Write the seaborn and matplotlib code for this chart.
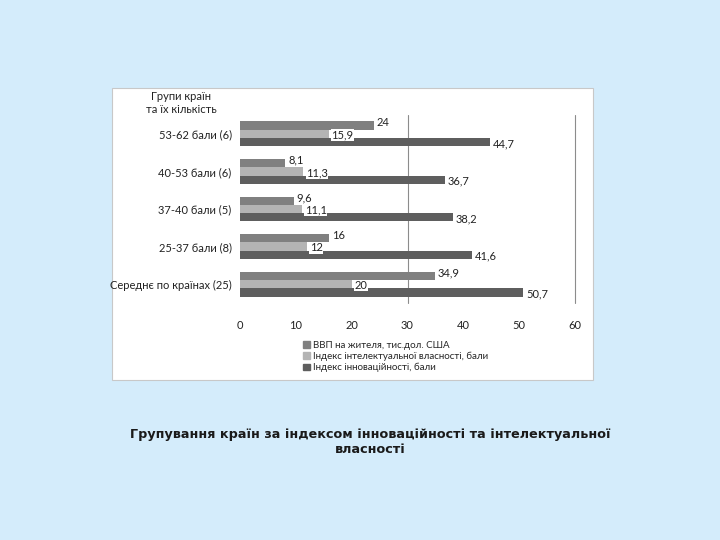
import matplotlib
matplotlib.use("Agg")
import matplotlib.pyplot as plt
import matplotlib.patches as mpatches
import seaborn as sns
import pandas as pd

# === Data ===
groups = ["53-62 бали (6)", "40-53 бали (6)", "37-40 бали (5)",
          "25-37 бали (8)", "Середнє по країнах (25)"]
series = ["ВВП на жителя, тис.дол. США",
          "Індекс інтелектуальної власності, бали",
          "Індекс інноваційності, бали"]
gdp = [24, 8.1, 9.6, 16, 34.9]
ip_index = [15.9, 11.3, 11.1, 12, 20]
innov_index = [44.7, 36.7, 38.2, 41.6, 50.7]
colors = ["#808080", "#b4b4b4", "#5e5e5e"]

df = pd.DataFrame({
    "group": groups * 3,
    "series": [series[0]] * 5 + [series[1]] * 5 + [series[2]] * 5,
    "value": gdp + ip_index + innov_index,
})

# === Style ===
sns.set_theme(style="white")
plt.rcParams["font.family"] = ["Lato", "DejaVu Sans"]

fig = plt.figure(figsize=(7.2, 5.4), dpi=100)
fig.patch.set_facecolor("#d4ecfb")

# white slide panel
panel = mpatches.Rectangle((112 / 720, 1 - 380 / 540), (593 - 112) / 720, (380 - 88) / 540,
                           transform=fig.transFigure, facecolor="white",
                           edgecolor="#c8c8c8", linewidth=0.8, zorder=0)
fig.patches.append(panel)

ax = fig.add_axes([240 / 720, 1 - 303 / 540, (575 - 240) / 720, (303 - 115) / 540])
ax.set_zorder(2)
ax.set_facecolor("none")

sns.barplot(data=df, y="group", x="value", hue="series", palette=colors,
            orient="h", width=0.66, gap=0.0, ax=ax, legend=False, saturation=1,
            linewidth=0)

# value labels (first series nudged up a little, as in the original)
for i, cont in enumerate(ax.containers):
    labels = [f"{v:g}".replace(".", ",") for v in cont.datavalues]
    txts = ax.bar_label(cont, labels=labels, padding=2, fontsize=8, color="#222222",
                        bbox=dict(facecolor="white", edgecolor="none", pad=0.2))
    for t in txts:
        dy = {0: 2, 1: -1, 2: -1}[i]
        t.set_position((t.get_position()[0], t.get_position()[1] + dy))

ax.set_xlim(0, 60)
ax.set_xticks(range(0, 61, 10))
for xv in (30, 60):
    ax.axvline(xv, color="#8c8c8c", linewidth=0.8, zorder=0, clip_on=False)
for s in ax.spines.values():
    s.set_visible(False)
ax.tick_params(axis="both", length=0, labelsize=8, colors="#222222")
ax.tick_params(axis="x", pad=12)
ax.tick_params(axis="y", pad=6)
ax.set_xlabel("")
ax.set_ylabel("")

# header over category labels
fig.text(181 / 720, 1 - 103 / 540, "Групи країн\nта їх кількість", ha="center", va="center",
         fontsize=8, color="#222222", linespacing=1.3, zorder=3)

# legend below axis
handles = [mpatches.Patch(color=c, label=s) for c, s in zip(colors, series)]
leg = fig.legend(handles=handles, loc="upper left", bbox_to_anchor=(298 / 720, 1 - 336 / 540),
                 frameon=False, fontsize=7, handlelength=0.7, handleheight=0.7,
                 handletextpad=0.3, labelspacing=0.2, borderpad=0)
leg.set_zorder(3)

# caption
fig.text(370 / 720, 1 - 442 / 540,
         "Групування країн за індексом інноваційності та інтелектуальної\nвласності",
         ha="center", va="center", fontsize=9.2, fontweight="bold",
         family=["DejaVu Sans"], color="#1a1a1a", linespacing=1.2)

plt.savefig("out.png", dpi=100, facecolor=fig.get_facecolor())
plt.close()
